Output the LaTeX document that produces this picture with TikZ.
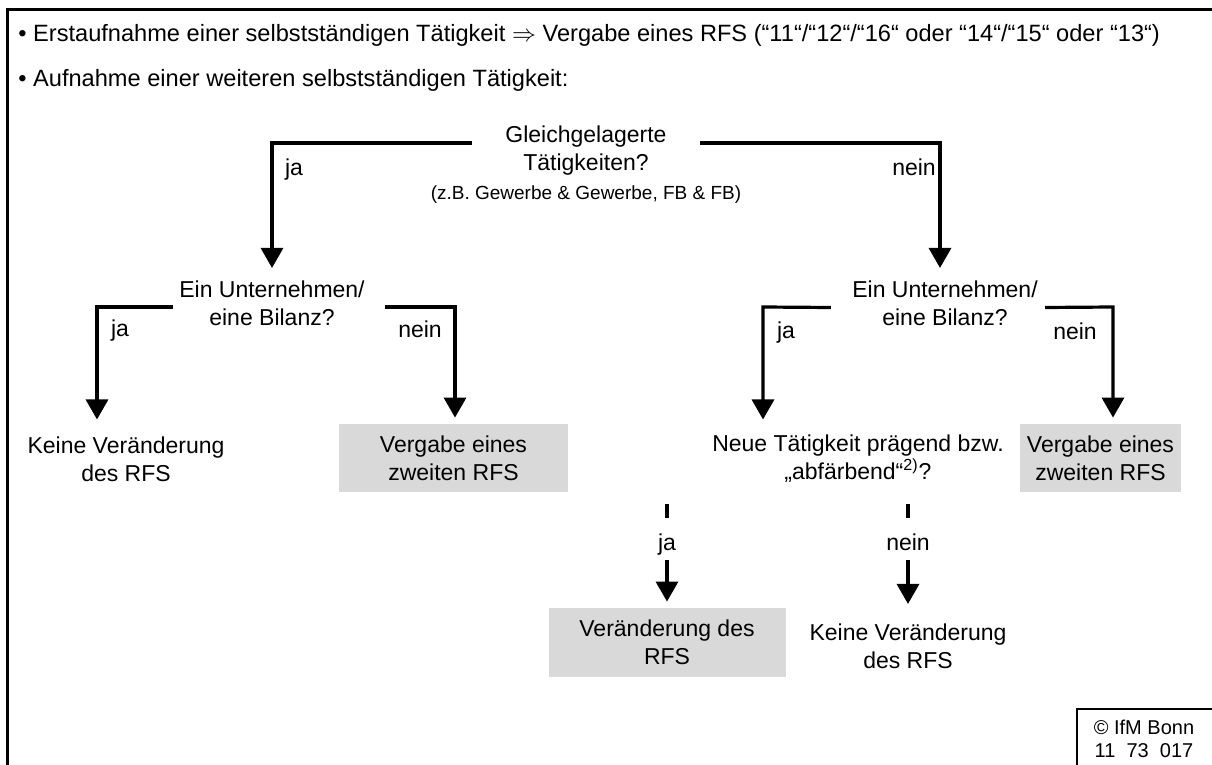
\documentclass[tikz,border=0pt]{standalone}
\usepackage{fontspec}
\setmainfont{Liberation Sans}
\usetikzlibrary{arrows.meta,calc}
\newcommand\fsN{\fontsize{11.5pt}{14pt}\selectfont}
\newcommand\fsH{\fontsize{11.8pt}{14pt}\selectfont}
\newcommand\fsS{\fontsize{9.5pt}{11.5pt}\selectfont}
\newcommand\fsC{\fontsize{10pt}{11.5pt}\selectfont}
\definecolor{boxgrey}{RGB}{217,217,217}
\begin{document}
\begin{tikzpicture}[x=0.5pt,y=-0.5pt,
  txt/.style={font=\fsN, align=center, inner sep=0pt, execute at begin node=\strut, execute at end node=\strut},
  lbl/.style={font=\fsN, inner sep=0pt, execute at begin node=\strut},
  greybox/.style={fill=boxgrey, draw=none, font=\fsN, align=center, inner sep=0pt},
  link/.style={line width=1.6pt},
  arr/.style={link, -{Triangle[width=11pt,length=10pt]}},
  frameline/.style={line width=1.4pt},
]
\useasboundingbox (0,0) rectangle (1212,765);
\fill[white] (0,0) rectangle (1212,765);

% outer frame (cut off at right and bottom)
\draw[frameline] (7.3,790) -- (7.3,9.8) -- (1240,9.8);

% header lines
\node[txt, font=\fsH, anchor=west] (h1) at (18,36) {• Erstaufnahme einer selbstständigen Tätigkeit $\Rightarrow$ Vergabe eines RFS (“11“/“12“/“16“ oder “14“/“15“ oder “13“)};
\node[txt, font=\fsH, anchor=west] (h2) at (18,81) {• Aufnahme einer weiteren selbstständigen Tätigkeit:};

% first question
\node[txt] (q1) at (586,152) {Gleichgelagerte\\Tätigkeiten?};
\node[font=\fsS, inner sep=0pt] (q1n) at (586,195) {(z.B. Gewerbe \& Gewerbe, FB \& FB)};

% second level questions
\node[txt] (q2l) at (272,307.5) {Ein Unternehmen/\\eine Bilanz?};
\node[txt] (q2r) at (945,307.5) {Ein Unternehmen/\\eine Bilanz?};

% leaves, level 3
\node[txt] (kv1) at (126,463) {Keine Veränderung\\des RFS};
\node[greybox, minimum width=114.5pt, minimum height=34pt] (gb1) at (453.5,458) {Vergabe eines\\zweiten RFS};
\node[txt] (q3) at (858,461) {Neue Tätigkeit prägend bzw.\\„abfärbend“\textsuperscript{2)}?};
\node[greybox, minimum width=80.5pt, minimum height=34pt] (gb2) at (1100.5,458) {Vergabe eines\\zweiten RFS};

% level 4
\node[lbl] (ja3) at (667,544.5) {ja};
\node[lbl] (nein3) at (908,544.5) {nein};
\node[greybox, minimum width=118.5pt, minimum height=34.5pt] (gb3) at (667,642.5) {Veränderung des\\RFS};
\node[txt] (kv2) at (908,650.5) {Keine Veränderung\\des RFS};

% branch labels
\node[lbl] (ja1) at (294,170) {ja};
\node[lbl] (nein1) at (914,170) {nein};
\node[lbl] (ja2l) at (120,331) {ja};
\node[lbl] (nein2l) at (420,332) {nein};
\node[lbl] (ja2r) at (786,333) {ja};
\node[lbl] (nein2r) at (1075,334) {nein};

% connectors from first question
\coordinate (k1) at (272,143);
\coordinate (k2) at (940,143);
\draw[arr, shorten >=6.3pt] ($(q1.west)+(-33,-9)$) -- (k1) -- (k1 |- q2l.north);
\draw[arr, shorten >=6.3pt] ($(q1.east)+(33,-9)$) -- (k2) -- (k2 |- q2r.north);

% connectors from left second question
\coordinate (k3) at (97,307);
\coordinate (k4) at (455,307);
\draw[arr, shorten >=8.3pt] (173,307) -- (k3) -- (k3 |- kv1.north);
\draw[arr, shorten >=3pt] (385,307) -- (k4) -- (k4 |- gb1.north);

% connectors from right second question
\coordinate (k5) at (763,307);
\coordinate (k6) at (1113,307);
\draw[arr, shorten >=7.3pt] ($(q2r.west)+(-21,0)$) -- (k5) -- (k5 |- q3.north);
\draw[arr, shorten >=3pt] ($(q2r.east)+(7,0)$) -- (k6) -- (k6 |- gb2.north);

% connectors from third question
\draw[link, shorten <=8.2pt, shorten >=6.3pt] (q3.south -| ja3) -- (ja3.north);
\draw[link, shorten <=8.2pt, shorten >=6.3pt] (q3.south -| nein3) -- (nein3.north);
\draw[arr, shorten <=0.7pt, shorten >=3pt] (ja3.south) -- (gb3.north);
\draw[arr, shorten <=0.7pt, shorten >=9.8pt] (nein3.south) -- (kv2.north);

% copyright box (cut off at right and bottom)
\draw[line width=0.6pt] (1077,790) -- (1077,709) -- (1240,709);
\node[font=\fsC, align=center, inner sep=0pt] (cr) at (1144,739) {© IfM Bonn\\11\ \ 73\ \ 017};
\end{tikzpicture}
\end{document}
